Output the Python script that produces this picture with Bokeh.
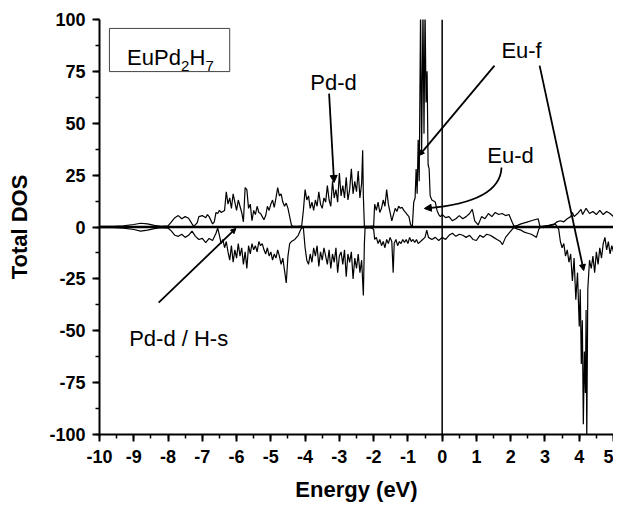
from bokeh.plotting import figure
from bokeh.embed import file_html
from bokeh.resources import INLINE
from bokeh.models import (Range1d, SingleIntervalTicker, Span, Label, Arrow,
                          NormalHead, BoxAnnotation, CustomJSTickFormatter)

# ---------------- data ----------------
up = [
    (-10.0, 0.3), (-9.6, 0.3), (-9.3, 0.5), (-9.0, 1.2), (-8.8, 1.8), (-8.6, 1.5), (-8.4, 0.8),
    (-8.2, 0.3), (-8.0, 0.5), (-7.9, 2.5), (-7.8, 4.5), (-7.7, 5.5), (-7.6, 4.0), (-7.5, 5.0),
    (-7.4, 4.2), (-7.3, 1.5), (-7.25, 0.3), (-7.15, 2.0), (-7.1, 5.0), (-7.0, 5.5), (-6.9, 4.5),
    (-6.85, 6.0), (-6.8, 5.0), (-6.7, 1.5), (-6.65, 2.5), (-6.6, 7.0), (-6.55, 6.5), (-6.5, 8.0),
    (-6.45, 7.0), (-6.4, 7.5), (-6.35, 8.0), (-6.3, 17.0), (-6.25, 11.0), (-6.2, 14.0),
    (-6.15, 9.0), (-6.1, 16.0), (-6.05, 12.0), (-6.0, 8.0), (-5.95, 13.0), (-5.9, 10.0),
    (-5.85, 7.0), (-5.8, 2.5), (-5.75, 19.0), (-5.7, 18.0), (-5.65, 9.0), (-5.6, 11.0),
    (-5.55, 3.0), (-5.5, 8.0), (-5.45, 6.0), (-5.4, 10.0), (-5.35, 7.0), (-5.3, 6.5),
    (-5.25, 5.0), (-5.2, 3.5), (-5.15, 5.5), (-5.1, 10.0), (-5.05, 8.0), (-5.0, 11.0),
    (-4.95, 13.0), (-4.9, 9.5), (-4.85, 14.0), (-4.8, 19.0), (-4.75, 15.0), (-4.7, 16.0),
    (-4.65, 12.0), (-4.6, 10.0), (-4.55, 11.5), (-4.5, 9.0), (-4.45, 5.0), (-4.4, 1.0),
    (-4.35, 0.3), (-4.2, 0.3), (-4.1, 0.5), (-4.05, 8.0), (-4.0, 18.0), (-3.95, 13.0),
    (-3.9, 15.0), (-3.85, 9.0), (-3.8, 12.0), (-3.75, 8.0), (-3.7, 13.0), (-3.65, 10.0),
    (-3.6, 17.0), (-3.55, 11.0), (-3.5, 9.0), (-3.45, 14.0), (-3.4, 12.0), (-3.35, 20.0),
    (-3.3, 13.0), (-3.25, 10.0), (-3.2, 22.0), (-3.15, 14.0), (-3.1, 18.0), (-3.05, 12.0),
    (-3.0, 26.0), (-2.95, 15.0), (-2.9, 20.0), (-2.85, 14.0), (-2.8, 24.0), (-2.75, 13.0),
    (-2.7, 18.0), (-2.65, 28.0), (-2.6, 16.0), (-2.55, 22.0), (-2.5, 17.0), (-2.45, 27.0),
    (-2.4, 14.0), (-2.35, 21.0), (-2.32, 37.0), (-2.3, 15.0), (-2.27, 0.3), (-2.1, 0.3),
    (-2.0, 0.5), (-1.97, 11.0), (-1.92, 8.0), (-1.87, 12.0), (-1.82, 7.0), (-1.77, 9.0),
    (-1.72, 13.0), (-1.67, 10.0), (-1.62, 18.0), (-1.57, 11.0), (-1.52, 7.0), (-1.47, 3.0),
    (-1.42, 6.0), (-1.37, 9.0), (-1.32, 7.5), (-1.27, 10.0), (-1.22, 9.0), (-1.17, 9.5),
    (-1.12, 8.0), (-1.07, 7.0), (-1.02, 6.0), (-0.97, 5.0), (-0.92, 1.0), (-0.87, 0.5),
    (-0.83, 12.0), (-0.79, 14.0), (-0.76, 28.0), (-0.73, 16.0), (-0.7, 42.0), (-0.67, 22.0),
    (-0.63, 105.0), (-0.6, 35.0), (-0.56, 105.0), (-0.53, 45.0), (-0.5, 105.0), (-0.47, 60.0),
    (-0.44, 75.0), (-0.41, 30.0), (-0.38, 28.0), (-0.35, 15.0),
    (-0.3, 13.0), (-0.2, 12.0), (-0.15, 8.0), (-0.1, 6.0), (-0.05, 5.0), (0.0, 6.0),
    (0.1, 4.5), (0.2, 5.0), (0.3, 3.0), (0.4, 4.0), (0.5, 5.5), (0.6, 4.0), (0.7, 5.0),
    (0.8, 6.5), (0.88, 8.5), (0.95, 3.0), (1.05, 1.0), (1.15, 5.0), (1.25, 4.0), (1.35, 6.5),
    (1.45, 5.0), (1.55, 7.0), (1.65, 6.0), (1.75, 6.5), (1.85, 5.5), (1.95, 6.0), (2.05, 2.0),
    (2.1, 0.3), (2.2, 0.8), (2.3, 1.5), (2.4, 2.0), (2.5, 2.5), (2.6, 3.0), (2.7, 3.5),
    (2.8, 4.0), (2.85, 0.5), (2.95, -0.3), (3.1, 0.5), (3.25, 1.0), (3.35, 2.5), (3.45, 3.0),
    (3.55, 2.5), (3.65, 4.0), (3.75, 5.0), (3.8, 7.0), (3.85, 5.0), (3.95, 6.5), (4.05, 8.5),
    (4.1, 6.0), (4.2, 9.0), (4.3, 6.5), (4.4, 7.5), (4.5, 6.0), (4.6, 8.0), (4.7, 6.0),
    (4.8, 7.5), (4.9, 6.5), (5.0, 5.0),
]
dn = [
    (-10.0, -0.3), (-9.6, -0.3), (-9.3, -0.5), (-9.0, -1.2), (-8.8, -2.0), (-8.6, -1.5),
    (-8.4, -0.8), (-8.2, -0.3), (-8.0, -0.5), (-7.9, -2.0), (-7.8, -4.0), (-7.7, -4.5),
    (-7.6, -3.5), (-7.5, -5.0), (-7.4, -4.0), (-7.3, -2.0), (-7.2, -4.5), (-7.1, -6.0),
    (-7.0, -5.5), (-6.9, -7.5), (-6.8, -5.5), (-6.7, -6.5), (-6.6, -3.0), (-6.55, -0.5),
    (-6.5, -4.0), (-6.45, -8.0), (-6.4, -6.0), (-6.35, -10.0), (-6.3, -7.0), (-6.25, -12.0),
    (-6.2, -16.0), (-6.15, -9.0), (-6.1, -17.0), (-6.05, -11.0), (-6.0, -15.0), (-5.95, -8.0),
    (-5.9, -14.0), (-5.85, -10.0), (-5.8, -18.0), (-5.75, -12.0), (-5.7, -20.0), (-5.65, -9.0),
    (-5.6, -13.0), (-5.55, -8.0), (-5.5, -11.0), (-5.45, -9.0), (-5.4, -12.0), (-5.35, -7.0),
    (-5.3, -9.0), (-5.25, -8.0), (-5.2, -11.0), (-5.15, -13.0), (-5.1, -10.0), (-5.05, -14.0),
    (-5.0, -12.0), (-4.95, -16.0), (-4.9, -13.0), (-4.85, -15.0), (-4.8, -11.0), (-4.75, -14.0),
    (-4.7, -18.0), (-4.65, -15.0), (-4.6, -21.0), (-4.55, -27.0), (-4.5, -14.0), (-4.45, -8.0),
    (-4.4, -7.0), (-4.3, -6.0), (-4.2, -4.0), (-4.15, -2.0), (-4.1, -0.3), (-4.05, -0.5),
    (-4.0, -10.0), (-3.95, -16.0), (-3.9, -18.0), (-3.85, -13.0), (-3.8, -17.0), (-3.75, -10.0),
    (-3.7, -14.0), (-3.65, -9.0), (-3.6, -19.0), (-3.55, -12.0), (-3.5, -16.0), (-3.45, -10.0),
    (-3.4, -14.0), (-3.35, -18.0), (-3.3, -11.0), (-3.25, -20.0), (-3.2, -13.0), (-3.15, -17.0),
    (-3.1, -10.0), (-3.05, -22.0), (-3.0, -14.0), (-2.95, -12.0), (-2.9, -18.0), (-2.85, -11.0),
    (-2.8, -24.0), (-2.75, -13.0), (-2.7, -17.0), (-2.65, -12.0), (-2.6, -25.0), (-2.55, -15.0),
    (-2.5, -20.0), (-2.45, -13.0), (-2.4, -22.0), (-2.35, -16.0), (-2.3, -33.0), (-2.27, -8.0),
    (-2.25, -0.5), (-2.1, -0.3), (-2.0, -1.0), (-1.97, -6.0), (-1.92, -5.0), (-1.87, -8.0),
    (-1.82, -6.0), (-1.77, -9.0), (-1.72, -7.0), (-1.67, -10.0), (-1.62, -6.0), (-1.57, -8.0),
    (-1.52, -5.0), (-1.47, -7.0), (-1.43, -22.0), (-1.4, -8.0), (-1.35, -6.0), (-1.3, -9.0),
    (-1.25, -7.0), (-1.2, -8.0), (-1.15, -6.0), (-1.1, -7.5), (-1.05, -6.0), (-1.0, -8.0),
    (-0.95, -5.0), (-0.9, -7.0), (-0.85, -6.0), (-0.8, -7.5), (-0.75, -6.0), (-0.7, -8.0),
    (-0.6, -6.5), (-0.5, -5.0), (-0.45, -1.5), (-0.4, -5.0), (-0.3, -6.0), (-0.2, -5.0),
    (-0.1, -6.5), (0.0, -5.0), (0.1, -6.0), (0.2, -4.0), (0.3, -3.0), (0.4, -4.5), (0.5, -3.5),
    (0.6, -4.0), (0.7, -5.0), (0.8, -4.0), (0.9, -6.0), (1.0, -6.5), (1.1, -4.0), (1.2, -5.0),
    (1.3, -3.5), (1.4, -4.0), (1.5, -5.0), (1.6, -6.0), (1.7, -7.0), (1.76, -8.5), (1.85, -5.0),
    (1.95, -3.0), (2.05, -1.0), (2.1, -0.3), (2.2, -1.0), (2.3, -1.5), (2.4, -2.5), (2.5, -3.0),
    (2.6, -3.5), (2.7, -4.5), (2.75, -5.0), (2.82, -1.0), (2.9, 0.3), (3.1, 0.8), (3.3, 1.5),
    (3.4, -1.0), (3.45, -7.0), (3.5, -10.0), (3.55, -8.0), (3.6, -14.0), (3.65, -11.0),
    (3.7, -17.0), (3.75, -13.0), (3.8, -26.0), (3.85, -15.0), (3.9, -35.0), (3.95, -22.0),
    (4.0, -48.0), (4.03, -30.0), (4.06, -66.0), (4.09, -45.0), (4.12, -95.0), (4.15, -60.0),
    (4.18, -80.0), (4.2, -40.0), (4.22, -103.0), (4.25, -30.0), (4.3, -16.0), (4.35, -20.0),
    (4.4, -14.0), (4.45, -22.0), (4.5, -12.0), (4.55, -18.0), (4.6, -10.0), (4.65, -15.0),
    (4.7, -8.0), (4.75, -5.0), (4.8, -11.0), (4.85, -7.0), (4.9, -13.0), (4.95, -9.0),
    (5.0, -12.0),
]
energy_up = [e for e, _ in up]
dos_up = [d for _, d in up]
energy_dn = [e for e, _ in dn]
dos_dn = [d for _, d in dn]

x_range = (-10, 5)
y_range = (-100, 100)
x_tick_step = 1
y_tick_step = 25

FONT = "Liberation Sans"

p = figure(width=613, height=506, output_backend="svg", toolbar_location=None,
           x_range=Range1d(*x_range), y_range=Range1d(*y_range),
           min_border_left=99, min_border_right=0, min_border_top=19,
           min_border_bottom=72)
p.outline_line_color = None
p.xgrid.visible = False
p.ygrid.visible = False
p.background_fill_color = "white"
p.border_fill_color = "white"

# axes
p.xaxis.ticker = SingleIntervalTicker(interval=x_tick_step, num_minor_ticks=2)
p.yaxis.ticker = SingleIntervalTicker(interval=y_tick_step, num_minor_ticks=2)
hyphen_fmt = CustomJSTickFormatter(code="return String(Math.round(tick));")
for ax in (p.xaxis, p.yaxis):
    ax.formatter = hyphen_fmt
    ax.axis_line_width = 2
    ax.axis_line_color = "black"
    ax.major_tick_line_width = 2
    ax.major_tick_line_color = "black"
    ax.major_tick_out = 7
    ax.major_tick_in = 0
    ax.minor_tick_line_width = 1.5
    ax.minor_tick_line_color = "black"
    ax.minor_tick_out = 4
    ax.minor_tick_in = 0
    ax.major_label_text_font = FONT
    ax.major_label_text_font_size = "18px"
    ax.major_label_text_font_style = "bold"
    ax.major_label_text_color = "black"
    ax.axis_label_text_font = FONT
    ax.axis_label_text_font_size = "22px"
    ax.axis_label_text_font_style = "bold"
    ax.axis_label_text_color = "black"
p.xaxis.major_label_standoff = 8
p.yaxis.major_label_standoff = 7
p.xaxis.axis_label = "Energy (eV)"
p.yaxis.axis_label = "Total DOS"
p.xaxis.axis_label_standoff = 11
p.yaxis.axis_label_standoff = 14

# zero lines
p.add_layout(Span(location=0, dimension="width", line_color="black", line_width=2.5))
p.add_layout(Span(location=0, dimension="height", line_color="black", line_width=1.5))

# DOS curves
p.line(energy_up, dos_up, line_color="black", line_width=1.2)
p.line(energy_dn, dos_dn, line_color="black", line_width=1.2)

# compound label box
p.add_layout(BoxAnnotation(left=-9.71, right=-6.2, top=95.7, bottom=74.9,
                           fill_color="white", fill_alpha=1.0,
                           line_color="#444444", line_alpha=1.0, line_width=1))

def lab(x, y, t, size="22px", align="center"):
    p.add_layout(Label(x=x, y=y, text=t, text_align=align,
                       text_baseline="alphabetic", text_font=FONT,
                       text_font_size=size, text_color="black"))

lab(-9.194, 81.7, "EuPd", align="left")
lab(-7.618, 77.8, "2", size="15px", align="left")
lab(-7.375, 81.7, "H", align="left")
lab(-6.909, 77.8, "7", size="15px", align="left")

lab(-3.168, 69.6, "Pd-d")
lab(2.317, 85.1, "Eu-f")
lab(1.996, 34.5, "Eu-d")
lab(-7.689, -53.7, "Pd-d / H-s")

def arrow(x0, y0, x1, y1, size=7):
    p.add_layout(Arrow(x_start=x0, y_start=y0, x_end=x1, y_end=y1,
                       line_color="black", line_width=1.8,
                       end=NormalHead(size=size, fill_color="black",
                                      line_color="black", line_width=1)))

arrow(-3.30, 64.3, -3.154, 21.45)          # Pd-d
arrow(1.527, 77.8, -0.667, 34.5, size=5)   # Eu-f (peak)
arrow(2.844, 77.8, 4.13, -21.0, size=6)    # Eu-f (spin down)
arrow(-8.274, -36.4, -6.021, -0.7, size=5) # Pd-d / H-s

# Eu-d curved arrow
p.bezier(x0=[1.732], y0=[28.67], x1=[-0.45], y1=[9.0],
         cx0=[1.703], cy0=[16.6], cx1=[0.854], cy1=[10.8],
         line_color="black", line_width=1.8)
arrow(-0.30, 9.3, -0.521, 8.92, size=7)

open("out.html", "w").write(file_html(p, INLINE))
